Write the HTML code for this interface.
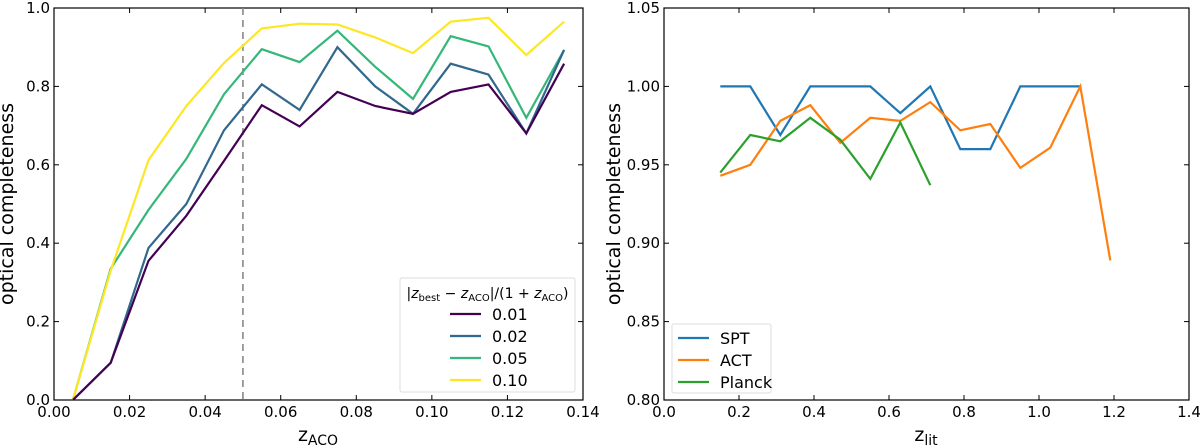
<!DOCTYPE html>
<html><head><meta charset="utf-8"><style>
body{margin:0;background:#fff;}
svg{display:block;font-family:"DejaVu Sans","Liberation Sans",sans-serif;}
</style></head><body>
<svg id="c" width="1200" height="447"></svg>
<script>
const leftX=[0.005,0.015,0.025,0.035,0.045,0.055,0.065,0.075,0.085,0.095,0.105,0.115,0.125,0.135];
const s001=[0,0.095,0.355,0.47,0.61,0.752,0.698,0.786,0.75,0.73,0.786,0.805,0.68,0.858];
const s002=[0,0.095,0.388,0.5,0.688,0.805,0.74,0.9,0.8,0.73,0.858,0.83,0.68,0.893];
const s005=[0,0.335,0.485,0.615,0.78,0.895,0.862,0.942,0.85,0.768,0.928,0.902,0.72,0.893];
const s010=[0,0.33,0.612,0.75,0.86,0.948,0.96,0.958,0.925,0.885,0.965,0.975,0.88,0.965];
const leftXTicks=["0.00","0.02","0.04","0.06","0.08","0.10","0.12","0.14"];
const leftYTicks=["0.0","0.2","0.4","0.6","0.8","1.0"];
const rightX=[0.15,0.23,0.31,0.39,0.47,0.55,0.63,0.71,0.79,0.87,0.95,1.03,1.11,1.19];
const spt=[1,1,0.969,1,1,1,0.983,1,0.96,0.96,1,1,1];
const act=[0.943,0.95,0.978,0.988,0.964,0.98,0.978,0.99,0.972,0.976,0.948,0.961,1.0,0.889];
const planck=[0.945,0.969,0.965,0.98,0.966,0.941,0.977,0.937];
const rightXTicks=["0.0","0.2","0.4","0.6","0.8","1.0","1.2","1.4"];
const rightYTicks=["0.80","0.85","0.90","0.95","1.00","1.05"];

const svg=document.getElementById('c');
const NS='http://www.w3.org/2000/svg';
function mk(tag,attrs,parent){const e=document.createElementNS(NS,tag);for(const k in attrs)e.setAttribute(k,attrs[k]);(parent||svg).appendChild(e);return e;}

function panel(name,x0,x1,y0,y1,xmin,xmax,ymin,ymax,xt,yt){
  const g=mk('g',{});
  
  
  const sx=v=>x0+(v-xmin)/(xmax-xmin)*(x1-x0);
  const sy=v=>y1-(v-ymin)/(ymax-ymin)*(y1-y0);
  const fr=mk('rect',{x:x0,y:y0,width:x1-x0,height:y1-y0,fill:'none',stroke:'#000','stroke-width':1.2},g);
  
  
  xt.forEach(t=>{const X=sx(parseFloat(t));
    mk('line',{x1:X,x2:X,y1:y1,y2:y1-5,stroke:'#000'},g);mk('line',{x1:X,x2:X,y1:y0,y2:y0+5,stroke:'#000'},g);
    const tx=mk('text',{x:X,y:y1+17,'text-anchor':'middle','font-size':15},g);tx.textContent=t;
    
    });
  yt.forEach(t=>{const Y=sy(parseFloat(t));
    mk('line',{x1:x0,x2:x0+5,y1:Y,y2:Y,stroke:'#000'},g);mk('line',{x1:x1,x2:x1-5,y1:Y,y2:Y,stroke:'#000'},g);
    const tx=mk('text',{x:x0-4,y:Y+5,'text-anchor':'end','font-size':15},g);tx.textContent=t;
    
    });
  return {g,sx,sy};
}
function line(p,xs,ys,color,name){
  const pts=ys.map((v,i)=>p.sx(xs[i]).toFixed(1)+','+p.sy(v).toFixed(1)).join(' ');
  const e=mk('polyline',{points:pts,fill:'none',stroke:color,'stroke-width':2.2},p.g);
  
  
}
const L=panel('left-chart',54,583,8,400,0,0.14,0,1,leftXTicks,leftYTicks);
const dl=mk('line',{x1:L.sx(0.05),x2:L.sx(0.05),y1:8,y2:400,stroke:'#888','stroke-width':1.6,'stroke-dasharray':'7,5'},L.g);


line(L,leftX,s005,'#35b779','line-0.05');
line(L,leftX,s010,'#fde725','line-0.10');
line(L,leftX,s002,'#31688e','line-0.02');
line(L,leftX,s001,'#440154','line-0.01');
const R=panel('right-chart',664,1189,8,400,0,1.4,0.8,1.05,rightXTicks,rightYTicks);
line(R,rightX,spt,'#1f77b4','line-spt');
line(R,rightX,act,'#ff7f0e','line-act');
line(R,rightX,planck,'#2ca02c','line-planck');

function legend(name,x,y,w,h,title,items){
  const g=mk('g',{});
  
  
  mk('rect',{x,y,width:w,height:h,fill:'#fff',stroke:'#ddd',rx:2},g);
  let yy=y+14;
  if(title){const t=mk('text',{x:x+w/2,y:y+20,'text-anchor':'middle','font-size':14},g);t.innerHTML=title;
    
    yy=y+36;}
  items.forEach(([lab,col,lx])=>{
    mk('line',{x1:x+lx,x2:x+lx+31,y1:yy,y2:yy,stroke:col,'stroke-width':2.2},g);
    const t=mk('text',{x:x+lx+42,y:yy+6,'font-size':16},g);t.textContent=lab;
    
    
    yy+=22;});
}
legend('left-legend',400,278,175,114,'|<tspan font-style="italic">z</tspan><tspan font-size="10" dy="3">best</tspan><tspan dy="-3"> − </tspan><tspan font-style="italic">z</tspan><tspan font-size="10" dy="3">ACO</tspan><tspan dy="-3">|/(1 + </tspan><tspan font-style="italic">z</tspan><tspan font-size="10" dy="3">ACO</tspan><tspan dy="-3">)</tspan>',
  [['0.01','#440154',50],['0.02','#31688e',50],['0.05','#35b779',50],['0.10','#fde725',50]]);
legend('right-legend',672,324,99,69,null,[['SPT','#1f77b4',6],['ACT','#ff7f0e',6],['Planck','#2ca02c',6]]);

function lbl(x,y,html,rot,name){const t=mk('text',{x,y,'text-anchor':'middle','font-size':19},svg);t.innerHTML=html;
  if(rot)t.setAttribute('transform','rotate(-90 '+x+' '+y+')');
  
  }
lbl(13,204,'optical completeness',true,'left-y-axis-title');
lbl(620,204,'optical completeness',true,'right-y-axis-title');
lbl(318,441,'z<tspan font-size="14" dy="4">ACO</tspan>',false,'left-x-axis-title');
lbl(926,441,'z<tspan font-size="14" dy="4">lit</tspan>',false,'right-x-axis-title');
</script>
</body></html>
